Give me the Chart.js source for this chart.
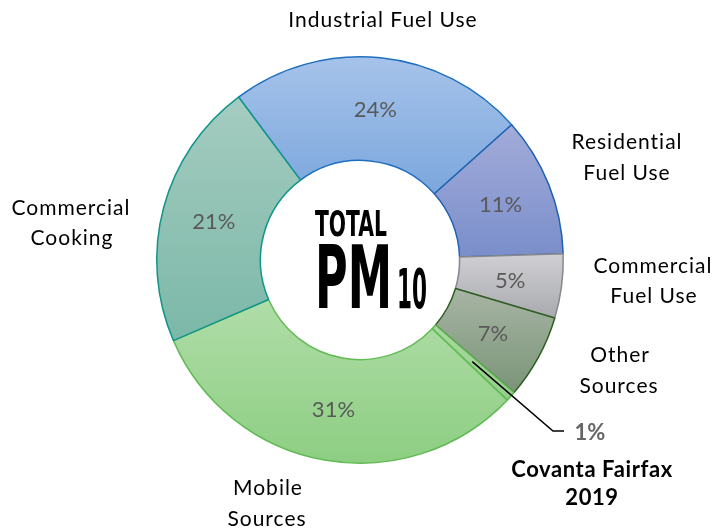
<!DOCTYPE html>
<html>
<head>
<meta charset="utf-8">
<script src="https://cdn.jsdelivr.net/npm/chart.js@4/dist/chart.umd.min.js"></script>
<style>
  html, body { margin: 0; padding: 0; background: #fff; }
  #wrap { width: 717px; height: 531px; }
</style>
</head>
<body>
<div id="wrap"><canvas id="pmChart" width="717" height="531"></canvas></div>
<script>
// data (share of total PM10, %)
const categories = ['Industrial Fuel Use', 'Residential Fuel Use', 'Commercial Fuel Use', 'Other Sources',
  'Covanta Fairfax 2019', 'Mobile Sources', 'Commercial Cooking'];
const shares = [23.6, 11.1, 5.1, 6.7, 0.8, 31.4, 21.3];
const labelLines = [['Industrial Fuel Use'], ['Residential', 'Fuel Use'], ['Commercial', 'Fuel Use'],
  ['Other', 'Sources'], ['Covanta Fairfax', '2019'], ['Mobile', 'Sources'], ['Commercial', 'Cooking']];

// styling
const topColors = ['#A6C3EA', '#A3ACD9', '#D0D0D4', '#A7B5A4', '#AAD8A1', '#B0DDA8', '#A5CCC1'];
const bottomColors = ['#7CA7DD', '#7A8ECB', '#A9AAAE', '#7A9477', '#94CE8B', '#8DCE82', '#7BB8A7'];
const borderColors = ['#1E70BE', '#2062B2', '#88888C', '#2F5E24', '#5DB24F', '#62BB55', '#12958A'];
// label anchors relative to doughnut centre: [dx, baseline dy] per line
const labelPos = [
  [[23, -233]],
  [[267, -111], [267, -80]],
  [[293, 13], [294, 43]],
  [[260, 102], [259, 133]],
  [[232, 217], [232, 245]],
  [[-92, 235], [-93, 266]],
  [[-289, -45], [-288, -15]]
];
const ROT = -36.7;
const CUT = 0.49;

function sliceYRange(chart, i) {
  const a = chart.chartArea;
  const cx = (a.left + a.right) / 2, cy = (a.top + a.bottom) / 2;
  const ro = Math.min(a.right - a.left, a.bottom - a.top) / 2, ri = ro * CUT;
  const total = shares.reduce((s, v) => s + v, 0);
  let start = ROT;
  for (let k = 0; k < i; k++) start += shares[k] / total * 360;
  const end = start + shares[i] / total * 360;
  let lo = Infinity, hi = -Infinity;
  for (let s = 0; s <= 40; s++) {
    const t = (start + (end - start) * s / 40) * Math.PI / 180;
    [ro, ri].forEach(r => {
      const y = cy - r * Math.cos(t);
      lo = Math.min(lo, y); hi = Math.max(hi, y);
    });
  }
  return [lo, hi];
}

function sliceFill(c) {
  const chart = c.chart, i = c.dataIndex;
  if (!chart.chartArea) return topColors[i];
  const [y0, y1] = sliceYRange(chart, i);
  const g = chart.ctx.createLinearGradient(0, y0, 0, y1);
  g.addColorStop(0, topColors[i]);
  g.addColorStop(1, bottomColors[i]);
  return g;
}

function squeezed(ctx, text, left, baseline, capH, width) {
  ctx.font = 'bold ' + (capH / 0.729) + 'px "DejaVu Sans"';
  ctx.textAlign = 'left';
  const w = ctx.measureText(text).width;
  ctx.save();
  ctx.translate(left, baseline);
  ctx.scale(width / w, 1);
  ctx.fillStyle = '#000';
  ctx.fillText(text, 0, 0);
  ctx.restore();
}

const labelPlugin = {
  id: 'pmLabels',
  afterDatasetsDraw(chart) {
    const ctx = chart.ctx;
    const arcs = chart.getDatasetMeta(0).data;
    const cx = arcs[0].x, cy = arcs[0].y;
    const total = shares.reduce((s, v) => s + v, 0);
    ctx.save();
    // percentages inside slices
    ctx.textAlign = 'center';
    ctx.textBaseline = 'alphabetic';
    arcs.forEach((arc, i) => {
      if (i === 4) return;
      const p = arc.tooltipPosition();
      ctx.font = '22px Lato';
      ctx.fillStyle = '#595959';
      ctx.fillText(Math.round(shares[i] / total * 100) + '%', p.x, p.y + 8);
    });
    // category labels
    labelLines.forEach((lines, i) => {
      lines.forEach((t, j) => {
        const [dx, dy] = labelPos[i][j];
        ctx.font = (i === 4 ? 'bold 22px' : '21px') + ' Lato';
        ctx.fillStyle = '#000';
        if ('letterSpacing' in ctx) ctx.letterSpacing = i === 4 ? '0.6px' : '1px';
        ctx.fillText(t, cx + dx, cy + dy);
      });
    });
    if ('letterSpacing' in ctx) ctx.letterSpacing = '0px';
    // leader for the small Covanta slice
    const p = arcs[4].tooltipPosition();
    ctx.beginPath();
    ctx.moveTo(p.x, p.y);
    ctx.lineTo(cx + 193, cy + 171);
    ctx.lineTo(cx + 204, cy + 171);
    ctx.strokeStyle = '#000';
    ctx.lineWidth = 1.5;
    ctx.stroke();
    ctx.font = 'bold 22px Lato';
    ctx.fillStyle = '#666';
    ctx.fillText(Math.round(shares[4] / total * 100) + '%', cx + 230, cy + 180);
    // centre title
    squeezed(ctx, 'TOTAL', cx - 45, cy - 24, 26, 72);
    squeezed(ctx, 'PM', cx - 45, cy + 48, 63, 77);
    squeezed(ctx, '10', cx + 37, cy + 48, 40, 30);
    ctx.restore();
  }
};

const ctx = document.getElementById('pmChart').getContext('2d');
const pmChart = new Chart(ctx, {
  type: 'doughnut',
  data: {
    labels: categories,
    datasets: [{
      data: shares,
      backgroundColor: sliceFill,
      borderColor: borderColors,
      borderWidth: 1.5,
      hoverOffset: 0
    }]
  },
  options: {
    responsive: false,
    animation: false,
    rotation: ROT,
    cutout: (CUT * 100) + '%',
    layout: { padding: { top: 56, bottom: 67, left: 3, right: 0 } },
    plugins: {
      legend: { display: false },
      tooltip: { enabled: false }
    }
  },
  plugins: [labelPlugin]
});
</script>
</body>
</html>
